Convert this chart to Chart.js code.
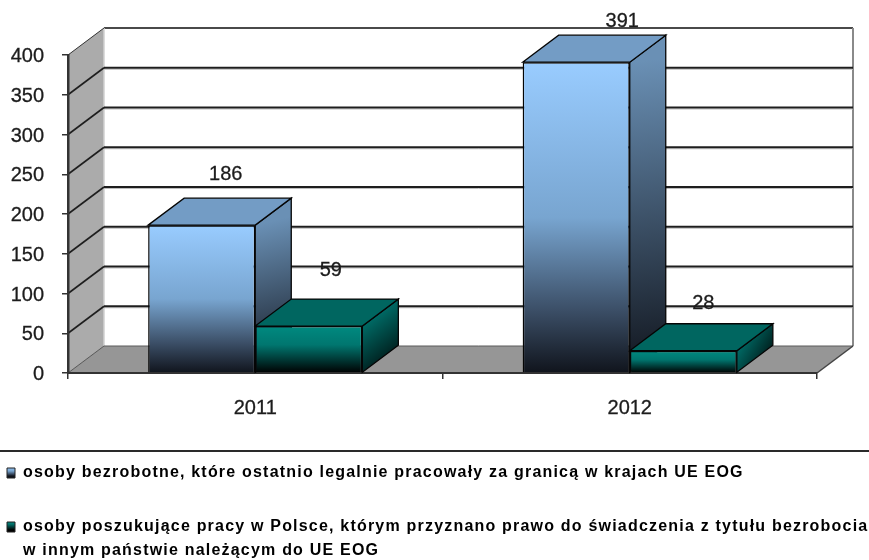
<!DOCTYPE html>
<html lang="pl">
<head>
<meta charset="utf-8">
<style>
html,body{margin:0;padding:0;background:#fff}
canvas{display:block;filter:blur(0.45px)}
</style>
<script src="https://cdn.jsdelivr.net/npm/chart.js@4"></script>
</head>
<body>
<canvas id="c" width="869" height="560"></canvas>
<script>
const categories = ['2011', '2012'];
const unemployedValues = [186, 391];
const jobseekerValues = [59, 28];
const unemployedLabel = 'osoby bezrobotne, które ostatnio legalnie pracowały za granicą w krajach UE EOG';
const jobseekerLabel = ['osoby poszukujące pracy w Polsce, którym przyznano prawo do świadczenia z tytułu bezrobocia', 'w innym państwie należącym do UE EOG'];
const yTicks = [0, 50, 100, 150, 200, 250, 300, 350, 400];

const depthX = 36, depthY = 27;
const TEXT = '#1c1c1c';
const FONT = '"Liberation Sans", Arial, sans-serif';
const labelShift = [[[24, -51], [46, -41]], [[22, -56], [20, -47]]];

const faceStyles = [
  { front: [[0, '#99CCFF'], [0.5, '#78A5D0'], [0.8, '#3B4E66'], [1, '#10141C']],
    side: [[0, '#6A90B5'], [1, '#10141C']], top: '#739CC5' },
  { front: [[0, '#008A80'], [0.4, '#00766F'], [1, '#000000']],
    side: [[0, '#006A65'], [1, '#000000']], top: '#006660' }
];

function gradient(ctx, x0, y0, x1, y1, stops) {
  const g = ctx.createLinearGradient(x0, y0, x1, y1);
  stops.forEach(s => g.addColorStop(s[0], s[1]));
  return g;
}
function poly(ctx, pts, fill, stroke, lw) {
  ctx.beginPath();
  pts.forEach((p, i) => i ? ctx.lineTo(p[0], p[1]) : ctx.moveTo(p[0], p[1]));
  ctx.closePath();
  if (fill) { ctx.fillStyle = fill; ctx.fill(); }
  if (stroke) { ctx.strokeStyle = stroke; ctx.lineWidth = lw; ctx.stroke(); }
}
function line(ctx, x0, y0, x1, y1, color, lw) {
  ctx.beginPath(); ctx.moveTo(x0, y0); ctx.lineTo(x1, y1);
  ctx.strokeStyle = color; ctx.lineWidth = lw; ctx.stroke();
}
function frontFill(c, ds) {
  const chart = c.chart;
  if (c.dataIndex === undefined || !chart.scales.y) return faceStyles[ds].front[0][1];
  const y = chart.scales.y;
  const v = chart.data.datasets[ds].data[c.dataIndex];
  return gradient(chart.ctx, 0, y.getPixelForValue(v), 0, y.getPixelForValue(0), faceStyles[ds].front);
}

const walls3d = {
  id: 'walls3d',
  afterLayout(chart) {
    // legend sits under the separator rule across the full width; wider tracking only while it draws
    const lg = chart.legend;
    lg.top = 427;
    lg.bottom = chart.height;
    lg.left = -31;
    lg.right = chart.width;
    if (!lg._tracked) {
      lg._tracked = true;
      const draw = lg.draw;
      lg.draw = function () {
        chart.ctx.letterSpacing = '1.2px';
        draw.call(this);
        chart.ctx.letterSpacing = '0px';
      };
    }
  },
  beforeDraw(chart) {
    const ctx = chart.ctx, a = chart.chartArea, y = chart.scales.y;
    const L = a.left, R = a.right, B = a.bottom, T = a.top;
    const bx = L + depthX, rx = R + depthX, by = B - depthY, ty = T - depthY;
    ctx.save();
    ctx.fillStyle = '#fff'; ctx.fillRect(0, 0, chart.width, chart.height);
    poly(ctx, [[bx, ty], [rx, ty], [rx, by], [bx, by]], '#fff');
    poly(ctx, [[L, T], [bx, ty], [bx, by], [L, B]], '#ABABAB');
    poly(ctx, [[L, B], [bx, by], [rx, by], [R, B]], '#969696');
    line(ctx, bx, ty, rx, ty, '#4a4a4a', 2);
    line(ctx, rx, ty, rx, by, '#8a8a8a', 2);
    line(ctx, bx, ty, bx, by, '#d0d0d0', 1.5);
    line(ctx, bx, by, rx, by, '#5a5a5a', 1);
    line(ctx, L, T, bx, ty, '#333', 1);
    line(ctx, L, B, bx, by, '#555', 1);
    line(ctx, R, B, rx, by, '#444', 1.5);
    yTicks.forEach(t => {
      if (t === 0 || t === 400) return;
      const p = y.getPixelForValue(t);
      line(ctx, bx, p - depthY + 1.5, rx, p - depthY + 1.5, '#bdbdbd', 1);
      line(ctx, bx, p - depthY, rx, p - depthY, '#1e1e1e', 2);
      line(ctx, L, p, bx, p - depthY, '#1e1e1e', 1.6);
    });
    ctx.restore();
    // rule above the legend
    line(ctx, 0, 451, chart.width, 451, '#2a2a2a', 2);
  },
  beforeDatasetsDraw(chart) {
    const ctx = chart.ctx;
    ctx.save();
    ctx.lineJoin = 'miter';
    chart.data.datasets.forEach((ds, di) => {
      const s = faceStyles[di];
      chart.getDatasetMeta(di).data.forEach(bar => {
        const l = bar.x - bar.width / 2, r = bar.x + bar.width / 2, t = bar.y, b = bar.base;
        poly(ctx, [[r, t], [r + depthX, t - depthY], [r + depthX, b - depthY], [r, b]],
          gradient(ctx, r, t, r + depthX, b, s.side), '#050505', 1.3);
        poly(ctx, [[l, t], [l + depthX, t - depthY], [r + depthX, t - depthY], [r, t]],
          s.top, '#050505', 1.3);
      });
    });
    ctx.restore();
  },
  afterDatasetsDraw(chart) {
    const ctx = chart.ctx;
    ctx.save();
    ctx.font = '20px ' + FONT;
    ctx.fillStyle = TEXT;
    ctx.strokeStyle = TEXT;
    ctx.lineWidth = 0.3;
    ctx.textAlign = 'center';
    ctx.textBaseline = 'middle';
    chart.data.datasets.forEach((ds, di) => {
      chart.getDatasetMeta(di).data.forEach((bar, i) => {
        const sh = labelShift[di][i];
        ctx.fillText(String(ds.data[i]), bar.x + sh[0], bar.y + sh[1]);
        ctx.strokeText(String(ds.data[i]), bar.x + sh[0], bar.y + sh[1]);
      });
    });
    ctx.restore();
  }
};

new Chart(document.getElementById('c'), {
  type: 'bar',
  data: {
    labels: categories,
    datasets: [
      { label: unemployedLabel, data: unemployedValues,
        backgroundColor: c => frontFill(c, 0), borderColor: '#050505', borderWidth: 1.5,
        categoryPercentage: 0.572, barPercentage: 1 },
      { label: jobseekerLabel, data: jobseekerValues,
        backgroundColor: c => frontFill(c, 1), borderColor: '#050505', borderWidth: 1.5,
        categoryPercentage: 0.572, barPercentage: 1 }
    ]
  },
  plugins: [walls3d],
  options: {
    responsive: false,
    animation: false,
    layout: { padding: { top: 55, right: 52, left: 0, bottom: 0 } },
    scales: {
      x: {
        afterFit: s => { s.height = 560 - 373 - s.chart.legend.height; },
        grid: { drawOnChartArea: false, drawTicks: true, tickLength: 6, color: '#333', lineWidth: 1.5 },
        border: { color: '#333', width: 2 },
        ticks: { color: TEXT, font: { family: FONT, size: 20 }, padding: 17, maxRotation: 0,
                 textStrokeColor: TEXT, textStrokeWidth: 0.3 }
      },
      y: {
        min: 0, max: 400,
        afterFit: s => { s.width = 68; },
        afterBuildTicks: s => { s.ticks = yTicks.map(v => ({ value: v })); },
        grid: { drawOnChartArea: false, drawTicks: true, tickLength: 6, color: '#333', lineWidth: 1.5 },
        border: { color: '#333', width: 2.5 },
        ticks: { color: TEXT, font: { family: FONT, size: 20 }, padding: 18, labelOffset: 1.5,
                 textStrokeColor: TEXT, textStrokeWidth: 0.3 }
      }
    },
    plugins: {
      title: { display: false },
      tooltip: { enabled: false },
      legend: {
        display: true,
        position: 'bottom',
        align: 'start',
        labels: {
          color: '#1a1a1a',
          font: { family: FONT, size: 16, weight: 'bold', lineHeight: 1.5 },
          boxWidth: 8, boxHeight: 10, padding: 38,
          generateLabels(chart) {
            const ctx = chart.ctx;
            return chart.data.datasets.map((ds, i) => ({
              text: ds.label,
              fillStyle: gradient(ctx, 0, i ? 520 : 466, 0, i ? 530 : 476, faceStyles[i].front),
              strokeStyle: '#222',
              lineWidth: 1,
              datasetIndex: i
            }));
          }
        }
      }
    }
  }
});
</script>
</body>
</html>
